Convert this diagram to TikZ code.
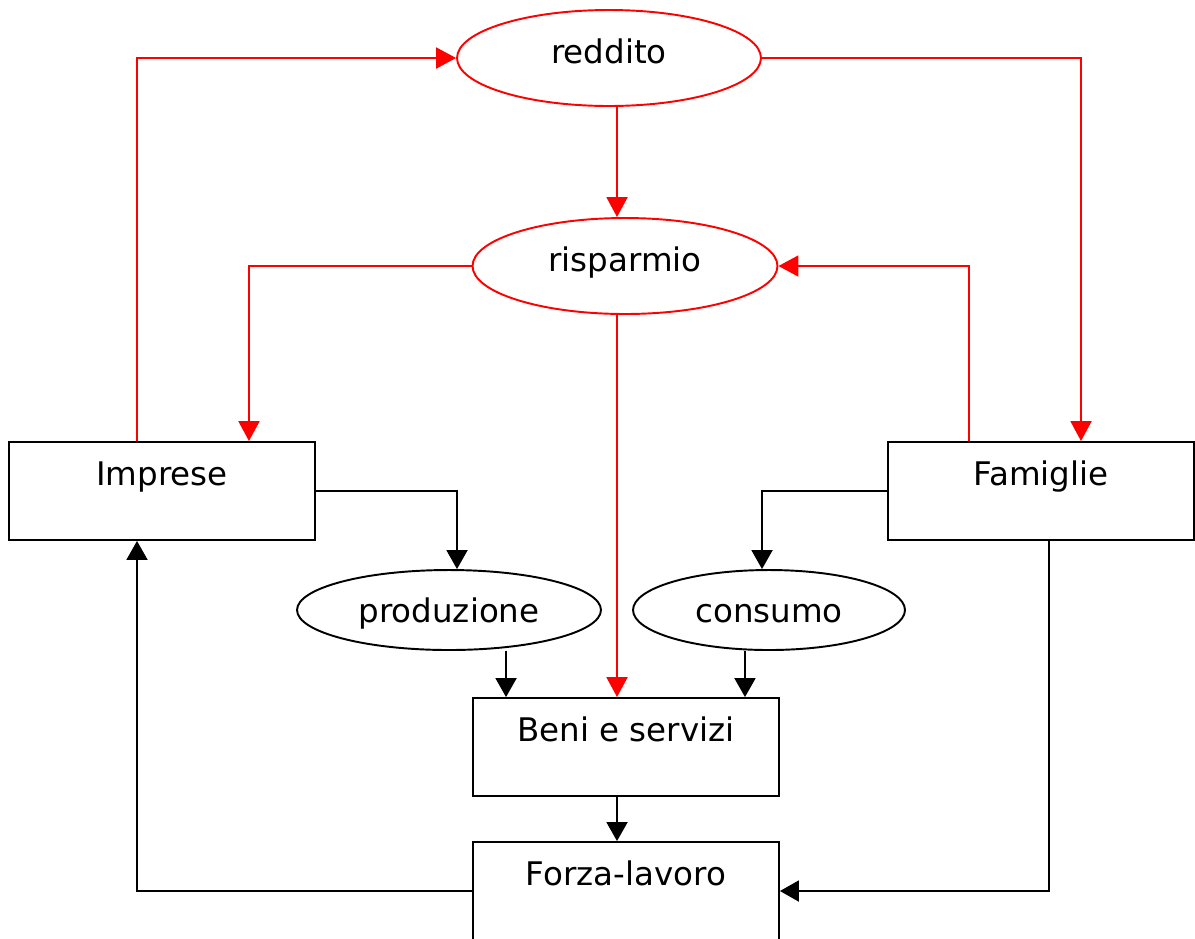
\documentclass[tikz,border=0pt]{standalone}
\usepackage{fontspec}
\setmainfont{DejaVu Sans}
\usetikzlibrary{arrows.meta,shapes.geometric}

\begin{document}
\begin{tikzpicture}[x=0.02cm, y=-0.02cm, font=\fontsize{18.5}{22}\selectfont,
                              box/.style={shape=rectangle, draw=black, line width=1.1pt, minimum width=6.12cm, inner xsep=0pt, inner ysep=0pt, text height=0.86cm, text depth=1.1cm},
                              redoval/.style={shape=ellipse, draw=red, line width=1.1pt, inner sep=0pt, text height=14pt, text depth=7.5pt},
                              blackoval/.style={shape=ellipse, draw=black, line width=1.1pt, inner sep=0pt, text height=14pt, text depth=0pt},
                              redflow/.style={draw=red, line width=1.1pt, -{Triangle[length=0.4cm, width=0.42cm]}},
                              blackflow/.style={draw=black, line width=1.1pt, -{Triangle[length=0.38cm, width=0.42cm]}}]
        \useasboundingbox (0,0) rectangle (1195,938);
        \node[redoval, minimum width=6.08cm, minimum height=1.92cm] (reddito) at (609,58) {reddito};
        \node[redoval, minimum width=6.1cm, minimum height=1.92cm] (risparmio) at (625,266) {risparmio};
        \node[box] (imprese) at (162,491) {Imprese};
        \node[box] (famiglie) at (1041,491) {Famiglie};
        \node[blackoval, minimum width=6.08cm, minimum height=1.6cm] (produzione) at (449,610) {produzione};
        \node[blackoval, minimum width=5.44cm, minimum height=1.6cm] (consumo) at (769,610) {consumo};
        \node[box] (beni) at (626,747) {Beni e servizi};
        \node[box] (forza) at (626,891) {Forza-lavoro};
        \draw[redflow] ([xshift=-0.5cm]imprese.north) |- (reddito.west);
        \draw[redflow] (reddito.east) -| ([xshift=0.8cm]famiglie.north);
        \draw[redflow] ([xshift=0.16cm]reddito.south) -- ([xshift=-0.16cm]risparmio.north);
        \draw[redflow] (risparmio.west) -| ([xshift=1.74cm]imprese.north);
        \draw[redflow] ([xshift=-1.44cm]famiglie.north) |- (risparmio.east);
        \draw[redflow] ([xshift=-0.18cm]beni.north |- risparmio.south) -- ([xshift=-0.18cm]beni.north);
        \draw[blackflow] (imprese.east) -| ([xshift=0.16cm]produzione.north);
        \draw[blackflow] (famiglie.west) -| ([xshift=-0.14cm]consumo.north);
        \draw[blackflow] ([xshift=-2.4cm]beni.north |- produzione.south) -- ([xshift=-2.4cm]beni.north);
        \draw[blackflow] ([xshift=2.38cm]beni.north |- consumo.south) -- ([xshift=2.38cm]beni.north);
        \draw[blackflow] ([xshift=-0.18cm]beni.south) -- ([xshift=-0.18cm]forza.north);
        \draw[blackflow] (forza.west) -| ([xshift=-0.5cm]imprese.south);
        \draw[blackflow] ([xshift=0.16cm]famiglie.south) |- (forza.east);
    \end{tikzpicture}
\end{document}
